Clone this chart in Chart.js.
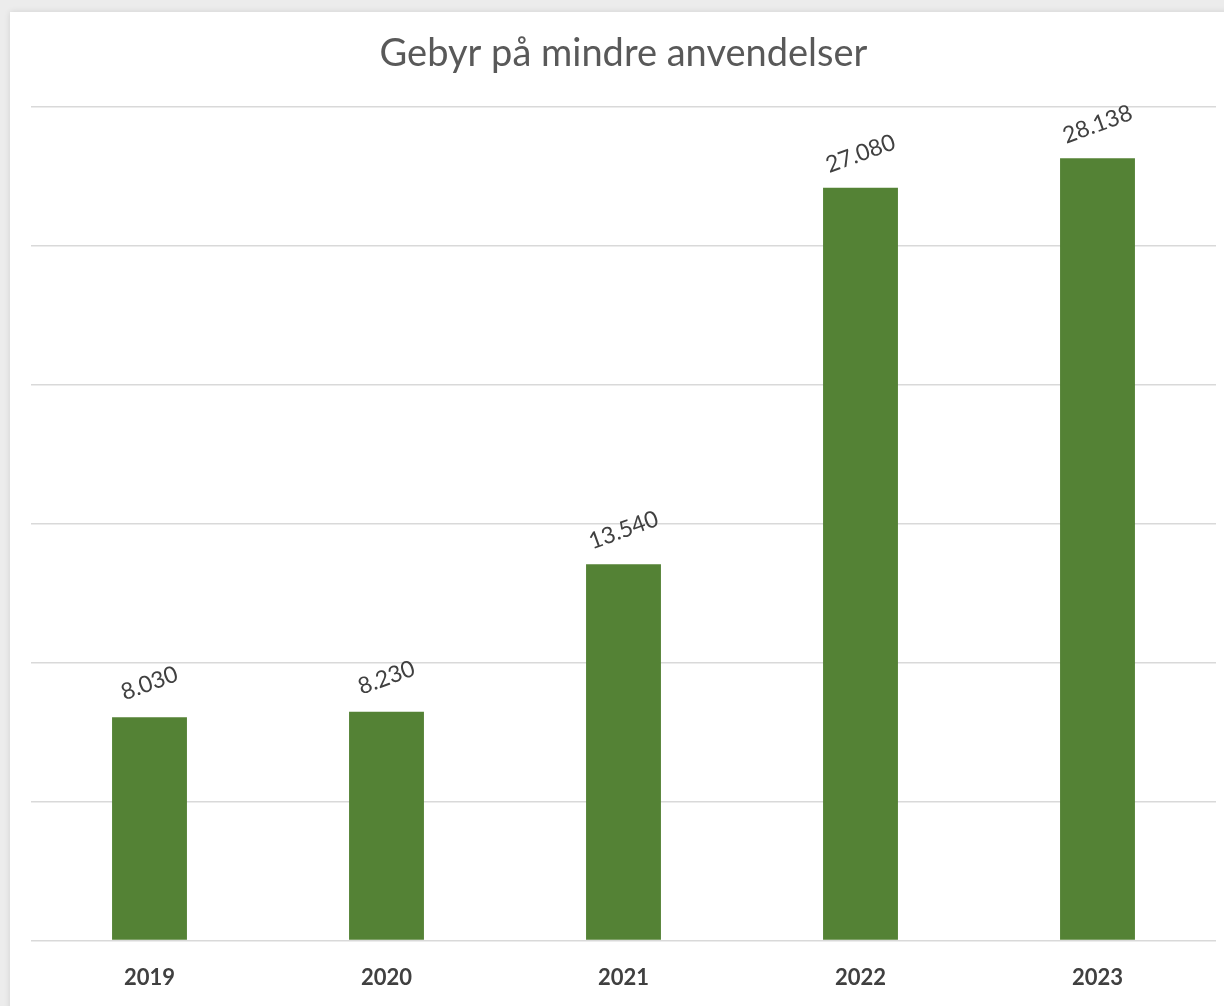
<!DOCTYPE html>
<html>
<head>
<meta charset="utf-8">
<script src="https://cdn.jsdelivr.net/npm/chart.js@4/dist/chart.umd.min.js"></script>
<style>
  html, body { margin: 0; padding: 0; }
  body { width: 1224px; height: 1006px; background: #ececec; position: relative; overflow: hidden; }
  #card { position: absolute; left: 10px; top: 12px; width: 1230px; height: 1010px; background: #fff; box-shadow: 0 0 6px rgba(0,0,0,0.12); }
  #chart { position: absolute; left: 0; top: 0; }
</style>
</head>
<body>
<div id="card"></div>
<canvas id="chart" width="1224" height="1006"></canvas>
<script>
// Data
const years = ['2019', '2020', '2021', '2022', '2023'];
const gebyr = [8030, 8230, 13540, 27080, 28138];
const yTicks = [0, 5000, 10000, 15000, 20000, 25000, 30000];

function formatNo(v) {
    return v.toLocaleString('de-DE');
}

// Labels over søjlerne, drejet lidt
const barLabels = {
    id: 'barLabels',
    afterDatasetsDraw(chart) {
        const ctx = chart.ctx;
        const meta = chart.getDatasetMeta(0);
        ctx.save();
        ctx.font = '23px Lato, "Open Sans", sans-serif';
        ctx.fillStyle = '#404040';
        ctx.textAlign = 'center';
        ctx.textBaseline = 'middle';
        meta.data.forEach((bar, i) => {
            ctx.save();
            ctx.translate(bar.x, bar.y - 34);
            ctx.rotate(-20 * Math.PI / 180);
            ctx.fillText(formatNo(gebyr[i]), 0, 0);
            ctx.restore();
        });
        ctx.restore();
    }
};

new Chart(document.getElementById('chart'), {
    type: 'bar',
    data: {
        labels: years,
        datasets: [{
            data: gebyr,
            backgroundColor: '#548235',
            barPercentage: 0.316,
            categoryPercentage: 1
        }]
    },
    options: {
        responsive: false,
        animation: false,
        devicePixelRatio: 1,
        layout: { padding: { left: 31, right: 8, top: 0, bottom: -9 } },
        plugins: {
            legend: { display: false },
            tooltip: { enabled: false },
            title: {
                display: true,
                text: 'Gebyr på mindre anvendelser',
                color: '#595959',
                font: { family: 'Lato, "Open Sans", sans-serif', size: 38, weight: 'normal' },
                padding: { top: 31, bottom: 30 }
            }
        },
        scales: {
            x: {
                grid: { display: false, drawTicks: false },
                border: { display: false },
                ticks: {
                    color: '#404040',
                    padding: 24,
                    font: { family: 'Lato, "Open Sans", sans-serif', size: 22, weight: 'bold' }
                }
            },
            y: {
                min: 0,
                max: 30000,
                afterBuildTicks(scale) {
                    scale.ticks = yTicks.map(v => ({ value: v }));
                },
                ticks: { display: false },
                border: { display: false },
                grid: { color: '#d9d9d9', lineWidth: 1.5, drawTicks: false }
            }
        }
    },
    plugins: [barLabels]
});
</script>
</body>
</html>
